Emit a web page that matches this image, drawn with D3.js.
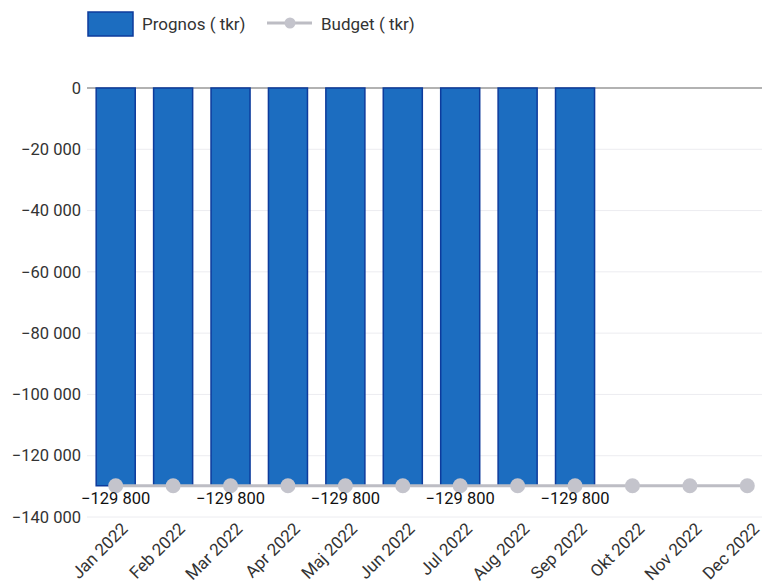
<!DOCTYPE html>
<html><head><meta charset="utf-8">
<script src="https://cdn.jsdelivr.net/npm/d3@7"></script>
<style>body{margin:0;background:#fff;font-family:Roboto,"Noto Sans",sans-serif;}</style>
</head><body><svg id="c" width="762" height="587"></svg>
<script>
const months = ["Jan 2022","Feb 2022","Mar 2022","Apr 2022","Maj 2022","Jun 2022","Jul 2022","Aug 2022","Sep 2022","Okt 2022","Nov 2022","Dec 2022"];
const prognos = [-129800,-129800,-129800,-129800,-129800,-129800,-129800,-129800,-129800,null,null,null];
const budget = [-129800,-129800,-129800,-129800,-129800,-129800,-129800,-129800,-129800,-129800,-129800,-129800];
const yTicks = [0,-20000,-40000,-60000,-80000,-100000,-120000,-140000];

const svg = d3.select("#c");
const x = d3.scaleBand().domain(months).range([87, 776]).paddingInner(0.32).paddingOuter(0.16);
const xc = m => x(m) + x.bandwidth()/2;
const y = d3.scaleLinear().domain([-140000, 0]).range([517, 88]);
const fmt = v => d3.format(",")(v).replace(/,/g, " ");

svg.append("g").selectAll("line").data(yTicks).join("line")
  .attr("x1", 87).attr("x2", 762).attr("y1", d => y(d)).attr("y2", d => y(d))
  .attr("stroke", d => d === 0 ? "#999" : "#ececf0").attr("stroke-width", d => d === 0 ? 1.5 : 1);

svg.append("g").selectAll("text").data(yTicks).join("text")
  .attr("x", 81).attr("y", d => y(d)).attr("dy", "0.35em").attr("text-anchor", "end")
  .attr("font-size", 16.5).attr("fill", "#333").text(d => fmt(d));

const pdata = months.map((m,i) => ({m, v: prognos[i]})).filter(d => d.v !== null);
svg.append("g").selectAll("rect").data(pdata).join("rect")
  .attr("x", d => x(d.m)).attr("width", x.bandwidth())
  .attr("y", y(0)).attr("height", d => y(d.v) - y(0))
  .attr("fill", "#1c6dc0").attr("stroke", "#0d3b9c").attr("stroke-width", 1.5);

const bdata = months.map((m,i) => ({m, v: budget[i]}));
svg.append("path").datum(bdata)
  .attr("d", d3.line().x(d => xc(d.m)).y(d => y(d.v)))
  .attr("fill", "none").attr("stroke", "#bdbdc4").attr("stroke-width", 3);
svg.append("g").selectAll("circle").data(bdata).join("circle")
  .attr("cx", d => xc(d.m)).attr("cy", d => y(d.v)).attr("r", 7.5)
  .attr("fill", "#c4c4cc");

svg.append("g").selectAll("text").data(pdata.filter((d,i) => i % 2 === 0)).join("text")
  .attr("x", d => xc(d.m)).attr("y", d => y(d.v) + 18).attr("text-anchor", "middle")
  .attr("font-size", 16.5).attr("fill", "#111").text(d => fmt(d.v));

svg.append("g").selectAll("text").data(months).join("text")
  .attr("transform", d => `translate(${xc(d)+13},${530}) rotate(-45)`)
  .attr("text-anchor", "end").attr("font-size", 17).attr("fill", "#333").text(d => d);

svg.append("rect").attr("x", 88).attr("y", 12).attr("width", 45).attr("height", 24)
  .attr("fill", "#1c6dc0").attr("stroke", "#0d3b9c").attr("stroke-width", 1.5);
svg.append("text").attr("x", 142).attr("y", 24).attr("dy", "0.35em").attr("font-size", 17).attr("fill", "#333").text("Prognos ( tkr)");
svg.append("line").attr("x1", 267).attr("x2", 312).attr("y1", 23).attr("y2", 23).attr("stroke", "#bdbdc4").attr("stroke-width", 3);
svg.append("circle").attr("cx", 290).attr("cy", 23).attr("r", 5.5).attr("fill", "#c4c4cc");
svg.append("text").attr("x", 321).attr("y", 24).attr("dy", "0.35em").attr("font-size", 17).attr("fill", "#333").text("Budget ( tkr)");
</script></body></html>
